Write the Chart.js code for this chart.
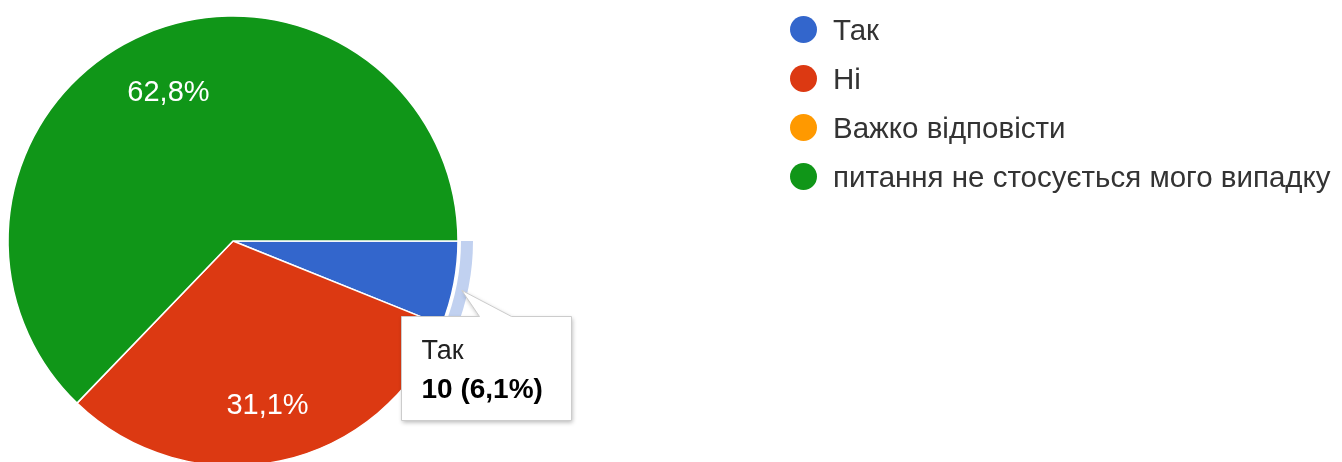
<!DOCTYPE html>
<html lang="uk">
<head>
<meta charset="utf-8">
<script src="https://cdn.jsdelivr.net/npm/chart.js@4/dist/chart.umd.min.js"></script>
<style>
  html, body { margin: 0; padding: 0; background: #fff; overflow: hidden; }
  body { width: 1342px; height: 462px; position: relative; font-family: Arial, "Liberation Sans", sans-serif; }
  #wrap { position: absolute; left: 0; top: 0; width: 1342px; height: 490px; }
  #legend { position: absolute; left: 790px; top: 5px; margin: 0; padding: 0; list-style: none; }
  #legend li { display: flex; align-items: center; height: 49px; font-size: 29.5px; color: #333; white-space: nowrap; }
  #legend .dot { width: 27px; height: 27px; border-radius: 50%; margin-right: 16px; flex: none; }
</style>
</head>
<body>
<div id="wrap"><canvas id="pie"></canvas></div>
<ul id="legend"></ul>
<script>
// Survey answers
const categories = ['Так', 'Ні', 'Важко відповісти', 'питання не стосується мого випадку'];
const counts = [10, 51, 0, 103];
const sliceColors = ['#3366cc', '#dc3912', '#ff9900', '#109618'];
const highlighted = 0; // answer shown in the hover card

const total = counts.reduce((a, b) => a + b, 0);
const pct = v => (v / total * 100).toFixed(1).replace('.', ',') + '%';

// Legend list
const legend = document.getElementById('legend');
categories.forEach((name, i) => {
  const li = document.createElement('li');
  const dot = document.createElement('span');
  dot.className = 'dot';
  dot.style.background = sliceColors[i];
  li.appendChild(dot);
  li.appendChild(document.createTextNode(name));
  legend.appendChild(li);
});

const FONT = 'Arial, "Liberation Sans", sans-serif';

// Percentage text inside the larger slices
const sliceLabels = {
  id: 'sliceLabels',
  afterDatasetsDraw(chart) {
    const { ctx } = chart;
    const arcs = chart.getDatasetMeta(0).data;
    ctx.save();
    ctx.font = '29px ' + FONT;
    ctx.fillStyle = '#ffffff';
    ctx.textAlign = 'center';
    ctx.textBaseline = 'middle';
    arcs.forEach((arc, i) => {
      const v = counts[i];
      if (v / total < 0.1) return;
      const { x, y, startAngle, endAngle, outerRadius } = arc.getProps(['x', 'y', 'startAngle', 'endAngle', 'outerRadius'], true);
      const mid = (startAngle + endAngle) / 2;
      const r = outerRadius * 0.733;
      ctx.fillText(pct(v), x + Math.cos(mid) * r, y + Math.sin(mid) * r + 4);
    });
    ctx.restore();
  }
};

// Highlight ring and hover card for the selected slice
const hoverCard = {
  id: 'hoverCard',
  afterDraw(chart) {
    const { ctx } = chart;
    const arc = chart.getDatasetMeta(0).data[highlighted];
    const { x, y, startAngle, endAngle, outerRadius } = arc.getProps(['x', 'y', 'startAngle', 'endAngle', 'outerRadius'], true);
    ctx.save();
    // ring
    ctx.beginPath();
    ctx.arc(x, y, outerRadius + 15, startAngle, endAngle);
    ctx.arc(x, y, outerRadius + 3, endAngle, startAngle, true);
    ctx.closePath();
    ctx.fillStyle = 'rgba(51,102,204,0.3)';
    ctx.fill();

    // card
    const mid = (startAngle + endAngle) / 2;
    const ax = x + Math.cos(mid) * (outerRadius + 8);
    const ay = y + Math.sin(mid) * (outerRadius + 8) + 5;
    const bx = Math.round(ax - 61) + 0.5, by = Math.round(ay + 26) + 0.5;
    const bw = 170, bh = 104;

    ctx.beginPath();
    ctx.moveTo(bx, by);
    ctx.lineTo(bx + 78, by);
    ctx.lineTo(ax, ay);
    ctx.lineTo(bx + 110, by);
    ctx.lineTo(bx + bw, by);
    ctx.lineTo(bx + bw, by + bh);
    ctx.lineTo(bx, by + bh);
    ctx.closePath();
    ctx.shadowColor = 'rgba(0,0,0,0.28)';
    ctx.shadowBlur = 4;
    ctx.shadowOffsetX = 1;
    ctx.shadowOffsetY = 2;
    ctx.fillStyle = '#ffffff';
    ctx.fill();
    ctx.shadowColor = 'transparent';
    ctx.strokeStyle = '#cccccc';
    ctx.lineWidth = 1;
    ctx.stroke();

    ctx.textAlign = 'left';
    ctx.textBaseline = 'alphabetic';
    ctx.fillStyle = '#222222';
    ctx.font = '27px ' + FONT;
    ctx.fillText(categories[highlighted], bx + 20, by + 42);
    ctx.fillStyle = '#000000';
    ctx.font = 'bold 28px ' + FONT;
    ctx.fillText(counts[highlighted] + ' (' + pct(counts[highlighted]) + ')', bx + 20, by + 81);
    ctx.restore();
  }
};

new Chart(document.getElementById('pie'), {
  type: 'pie',
  data: {
    labels: categories,
    datasets: [{
      data: counts,
      backgroundColor: sliceColors,
      borderColor: '#ffffff',
      borderWidth: 1.5,
      hoverOffset: 0
    }]
  },
  options: {
    responsive: true,
    maintainAspectRatio: false,
    animation: false,
    rotation: 90,
    radius: 225,
    events: [],
    layout: { padding: { left: 8, top: 16, right: 884, bottom: 24 } },
    plugins: {
      legend: { display: false },
      tooltip: { enabled: false }
    }
  },
  plugins: [sliceLabels, hoverCard]
});
</script>
</body>
</html>
